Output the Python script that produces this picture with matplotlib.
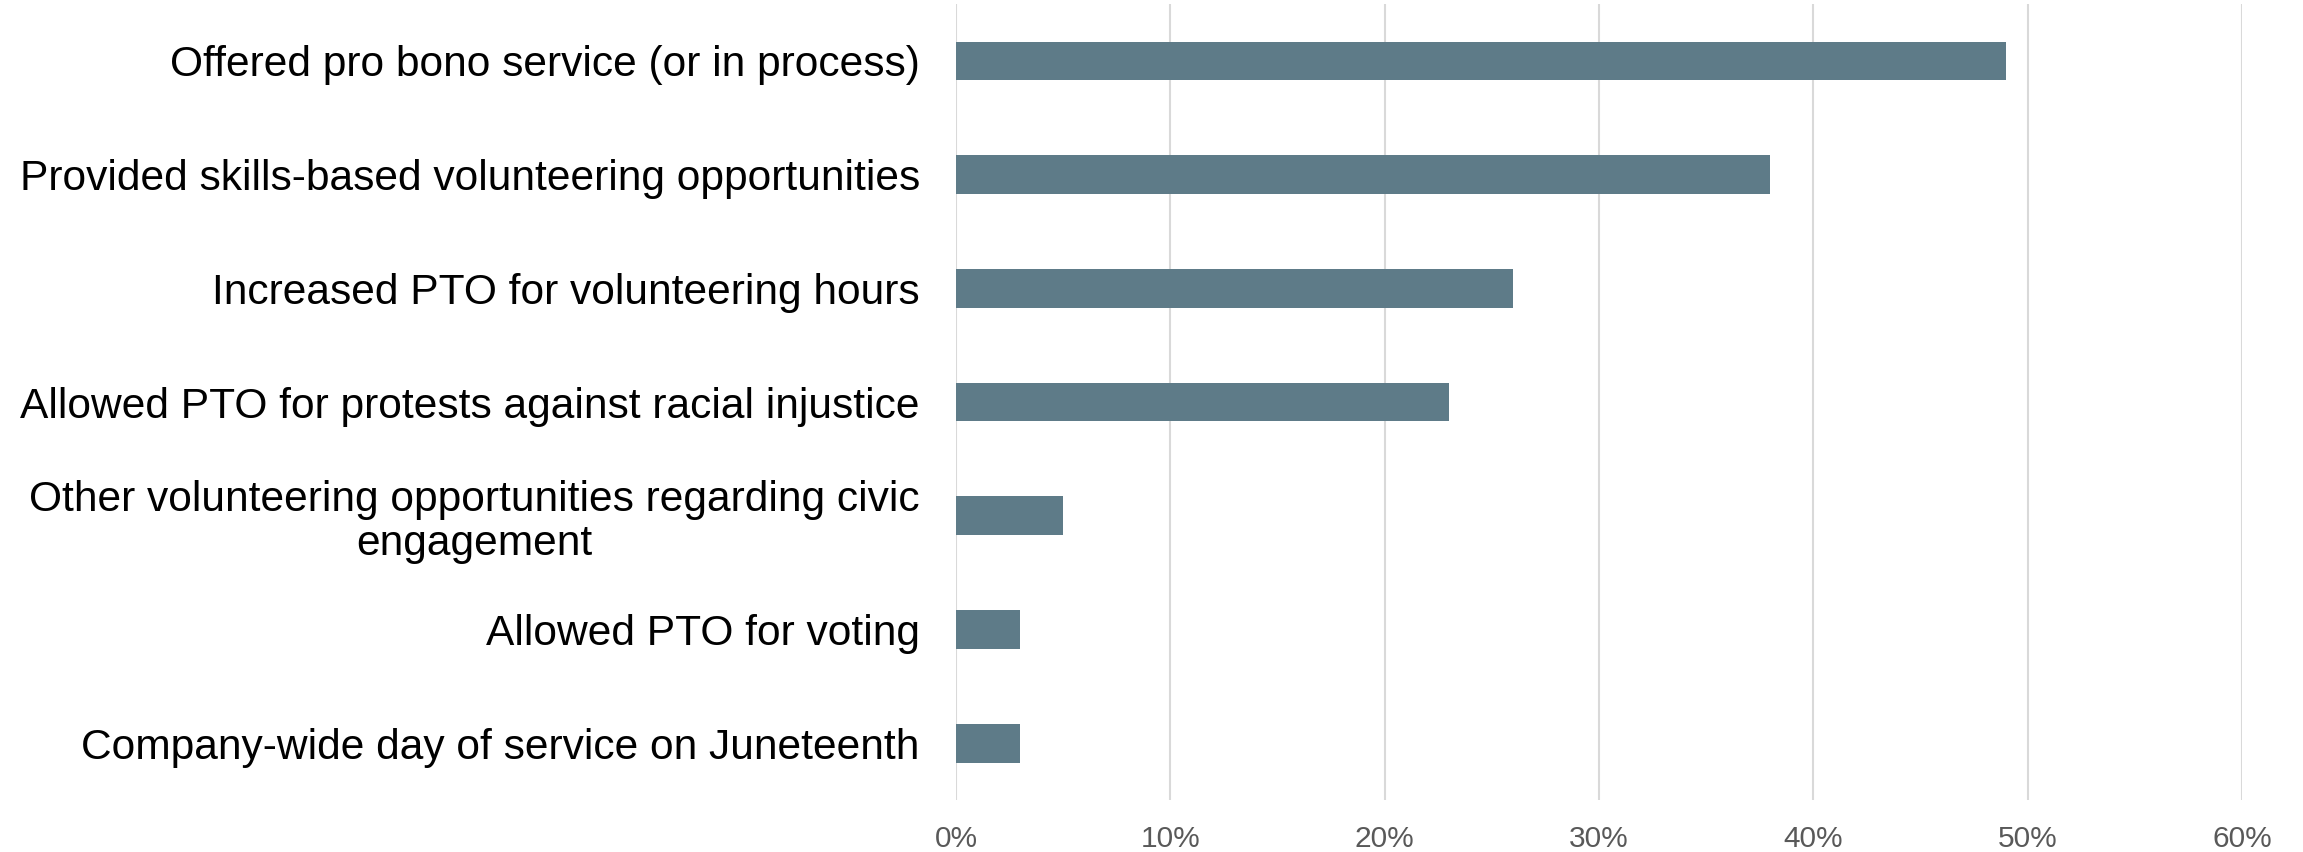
import matplotlib.pyplot as plt
from matplotlib.ticker import PercentFormatter

# 응답 항목과 비율 (%)
categories = [
    'Offered pro bono service (or in process)',
    'Provided skills-based volunteering opportunities',
    'Increased PTO for volunteering hours',
    'Allowed PTO for protests against racial injustice',
    'Other volunteering opportunities regarding civic\nengagement',
    'Allowed PTO for voting',
    'Company-wide day of service on Juneteenth',
]
values = [49, 38, 26, 23, 5, 3, 3]
x_ticks = [0, 10, 20, 30, 40, 50, 60]

plt.rcParams['font.family'] = ['Liberation Sans', 'DejaVu Sans']

fig = plt.figure(figsize=(23.03, 8.52), dpi=100)
ax = fig.add_axes([0.4151, 0.061, 0.5584, 0.9343])

pos = list(range(len(categories)))
ax.barh(pos, values, height=0.34, color='#5E7B88', zorder=3)

ax.set_ylim(len(categories) - 0.5, -0.5)
ax.set_xlim(0, 60)
ax.set_xticks(x_ticks)
ax.xaxis.set_major_formatter(PercentFormatter(decimals=0))
ax.set_yticks(pos)
ax.set_yticklabels(categories, fontsize=30.6, color='black', linespacing=1.12)
for lab in ax.get_yticklabels():
    lab.set_multialignment('center')

ax.grid(axis='x', color='#D9D9D9', linewidth=1.5, zorder=0)
ax.grid(axis='y', visible=False)
for s in ax.spines.values():
    s.set_visible(False)

ax.tick_params(axis='y', length=0, pad=26)
ax.tick_params(axis='x', length=0, pad=18, labelsize=21.5, labelcolor='#595959')

plt.savefig('out.png', dpi=100)
plt.close()
